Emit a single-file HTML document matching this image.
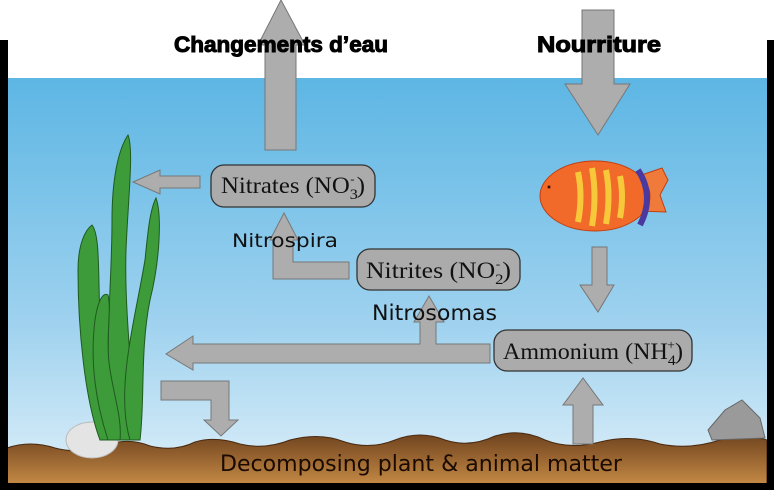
<!DOCTYPE html>
<html><head><meta charset="utf-8"><style>
html,body{margin:0;padding:0;background:#fff;}
svg{display:block;}
</style></head><body>
<svg width="774" height="490" viewBox="0 0 774 490" xmlns="http://www.w3.org/2000/svg">
<defs>
<linearGradient id="w" x1="0" y1="0" x2="0" y2="1">
<stop offset="0" stop-color="#5db6e4"/><stop offset="0.6" stop-color="#9fd2ef"/><stop offset="1" stop-color="#dff0f9"/>
</linearGradient>
<linearGradient id="s" x1="0" y1="0" x2="0" y2="1">
<stop offset="0" stop-color="#6e421e"/><stop offset="1" stop-color="#c58a45"/>
</linearGradient>
</defs>
<rect x="0" y="0" width="774" height="490" fill="#fff"/>
<rect x="7" y="78" width="760" height="410" fill="url(#w)"/>
<path d="M7 448 Q30 440 55 448 Q80 455 110 444 Q130 438 150 446 Q175 452 195 442 Q215 436 240 444 Q265 450 290 440 Q320 432 345 442 Q370 450 395 440 Q420 430 445 440 Q470 448 495 436 Q520 428 545 440 Q570 450 600 442 Q630 434 660 444 Q690 450 720 440 Q745 434 767 440 L767 485 L7 485 Z" fill="url(#s)" stroke="#4a2a10" stroke-width="1"/>
<ellipse cx="92" cy="440" rx="26" ry="18" fill="#e4e4e4" stroke="#bbb"/>
<path d="M708 430 L725 410 L742 400 L760 418 L765 438 L712 440 Z" fill="#9a9a9a" stroke="#666"/>
<g fill="#3d9b3a" stroke="#1f5a1f" stroke-width="1">
<path d="M118 440 C100 380 112 300 112 220 C112 180 118 150 128 135 C134 150 128 200 126 250 C124 320 135 380 132 440 Z"/>
<path d="M130 440 C115 390 135 320 145 260 C148 230 150 210 156 198 C162 215 160 260 150 300 C140 350 145 400 140 440 Z"/>
<path d="M100 440 C85 400 78 330 78 270 C78 245 85 230 92 225 C100 235 98 270 100 320 C102 370 115 410 112 440 Z"/>
<path d="M108 440 C95 400 90 360 95 320 C98 300 103 292 108 295 C112 310 105 340 110 370 C115 400 122 420 120 440 Z"/>
</g>
<rect x="0" y="40" width="8" height="450" fill="#000"/>
<rect x="767" y="40" width="7" height="450" fill="#000"/>
<rect x="0" y="483" width="774" height="7" fill="#000"/>
<g stroke="#c04010" stroke-width="1">
<path d="M612 185 L662 168 L668 180 L660 195 L666 212 L612 210 Z" fill="#f07a3a"/>
<ellipse cx="595" cy="196" rx="55" ry="35" fill="#f26a2a"/>
<path d="M638 170 Q655 196 640 225" fill="none" stroke="#4a3aa0" stroke-width="6"/>
<g fill="none" stroke="#f7c93a" stroke-width="6">
<path d="M578 172 Q583 196 578 222"/><path d="M592 168 Q597 196 592 226"/><path d="M606 170 Q611 196 606 224"/><path d="M620 176 Q624 196 620 218"/>
</g>
<circle cx="549" cy="187" r="1.5" fill="#000"/>
</g>
<g fill="#adadad" stroke="#777" stroke-width="1">
<path d="M265 150 L265 45 L258 45 L281 0 L305 45 L296 45 L296 150 Z"/>
<path d="M582 10 L614 10 L614 84 L630 84 L598 135 L565 84 L582 84 Z"/>
<path d="M200 176 L200 188 L160 188 L160 194 L133 182 L160 170 L160 176 Z"/>
<path d="M349 262 L349 279 L273 279 L273 240 L270 240 L284 213 L298 240 L293 240 L293 262 Z"/>
<path d="M490 344 L490 363 L193 363 L193 370 L166 354 L193 336 L193 344 L420 344 L420 322 L414 322 L429 296 L444 322 L436 322 L436 344 Z"/>
<path d="M592 247 L607 247 L607 285 L614 285 L598 312 L580 285 L592 285 Z"/>
<path d="M573 444 L573 405 L563 405 L583 378 L603 405 L593 405 L593 444 Z"/>
<path d="M161 381 L229 381 L229 420 L238 420 L221 436 L204 420 L211 420 L211 400 L161 400 Z"/>
</g>
<g fill="#ababab" stroke="#333" stroke-width="1.3">
<rect x="211" y="165" width="164" height="42" rx="13"/>
<rect x="357" y="249" width="163" height="41" rx="13"/>
<rect x="494" y="330" width="198" height="41" rx="13"/>
</g>
<g font-family="Liberation Serif, serif" font-size="23" fill="#111">
<text x="221" y="193" textLength="144" lengthAdjust="spacingAndGlyphs">Nitrates (NO<tspan font-size="15" dy="6">3</tspan><tspan font-size="12" dy="-16" dx="-7">-</tspan><tspan dy="10" dx="2">)</tspan></text>
<text x="366" y="278" textLength="145" lengthAdjust="spacingAndGlyphs">Nitrites (NO<tspan font-size="15" dy="6">2</tspan><tspan font-size="12" dy="-16" dx="-7">-</tspan><tspan dy="10" dx="2">)</tspan></text>
<text x="503" y="359" textLength="180" lengthAdjust="spacingAndGlyphs">Ammonium (NH<tspan font-size="15" dy="6">4</tspan><tspan font-size="13" dy="-16" dx="-8">+</tspan><tspan dy="10">)</tspan></text>
</g>
<g font-family="DejaVu Sans, sans-serif" fill="#111">
<text x="232" y="247" font-size="19" textLength="106" lengthAdjust="spacingAndGlyphs">Nitrospira</text>
<text x="372" y="320" font-size="21" textLength="125" lengthAdjust="spacingAndGlyphs">Nitrosomas</text>
<text x="220" y="471" font-size="22" textLength="402" lengthAdjust="spacingAndGlyphs" fill="#1a0a00">Decomposing plant &amp; animal matter</text>
</g>
<g font-family="Liberation Sans, sans-serif" font-weight="bold" font-size="22" fill="#000" stroke="#000" stroke-width="1">
<text x="281" y="52" text-anchor="middle" textLength="214" lengthAdjust="spacingAndGlyphs">Changements d’eau</text>
<text x="599" y="52" text-anchor="middle" textLength="124" lengthAdjust="spacingAndGlyphs">Nourriture</text>
</g>
</svg>
</body></html>
